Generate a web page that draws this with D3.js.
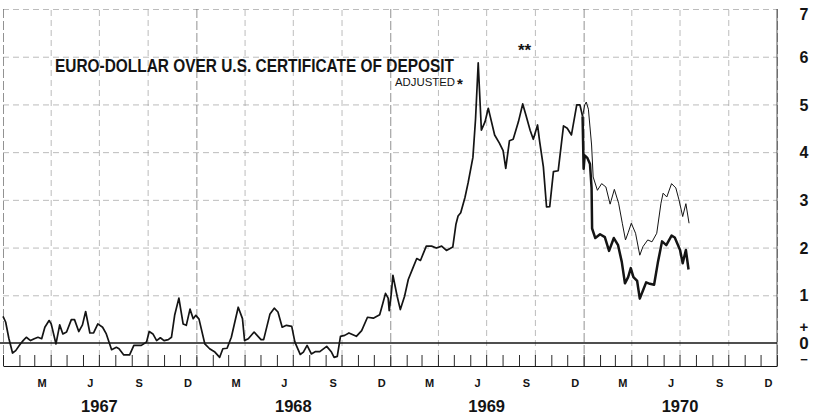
<!DOCTYPE html>
<html>
<head>
<meta charset="utf-8">
<script src="https://cdn.jsdelivr.net/npm/d3@7"></script>
<style>
  body { margin: 0; background: #fff; }
  svg { display: block; font-family: "Liberation Sans", Arial, sans-serif; }
  .grid line { stroke: #a6a6a6; stroke-width: 0.75; stroke-dasharray: 6,4; }
  .grid .domain { display: none; }
  .grid .year line { stroke: #6e6e6e; stroke-dasharray: 9,3; }
</style>
</head>
<body>
<div class="chart"></div>
<script>
// single line up to end of 1969
const mainDates = ['1967-01-01','1967-01-06','1967-01-12','1967-01-19','1967-01-25','1967-02-02','1967-02-08','1967-02-14','1967-02-22','1967-03-01',
  '1967-03-08','1967-03-15','1967-03-21','1967-03-29','1967-04-02','1967-04-11','1967-04-18','1967-04-24','1967-05-01','1967-05-10',
  '1967-05-16','1967-05-24','1967-05-31','1967-06-06','1967-06-14','1967-06-21','1967-06-29','1967-07-08','1967-07-15','1967-07-25',
  '1967-08-03','1967-08-08','1967-08-17','1967-08-28','1967-09-05','1967-09-19','1967-09-29','1967-10-04','1967-10-11','1967-10-18',
  '1967-10-25','1967-11-01','1967-11-09','1967-11-15','1967-11-21','1967-11-29','1967-12-07','1967-12-13','1967-12-20','1967-12-26',
  '1967-12-31','1968-01-06','1968-01-17','1968-01-26','1968-02-05','1968-02-14','1968-02-20','1968-02-28','1968-03-07','1968-03-20',
  '1968-03-28','1968-04-01','1968-04-08','1968-04-19','1968-05-02','1968-05-07','1968-05-19','1968-05-27','1968-06-03','1968-06-11',
  '1968-06-19','1968-06-29','1968-07-05','1968-07-15','1968-07-21','1968-07-28','1968-08-05','1968-08-13','1968-08-21','1968-09-03',
  '1968-09-12','1968-09-17','1968-09-23','1968-09-29','1968-10-07','1968-10-15','1968-10-29','1968-11-08','1968-11-19','1968-11-30',
  '1968-12-12','1968-12-17','1968-12-23','1968-12-28','1968-12-30','1969-01-03','1969-01-06','1969-01-14','1969-01-20','1969-01-28',
  '1969-02-04','1969-02-13','1969-02-20','1969-02-27','1969-03-10','1969-03-20','1969-03-29','1969-04-08','1969-04-17','1969-04-29',
  '1969-05-05','1969-05-09','1969-05-14','1969-05-22','1969-05-28','1969-06-06','1969-06-11','1969-06-16','1969-06-22','1969-06-29',
  '1969-07-05','1969-07-08','1969-07-17','1969-07-26','1969-08-02','1969-08-07','1969-08-14','1969-08-21','1969-08-31','1969-09-08',
  '1969-09-14','1969-09-22','1969-09-28','1969-10-06','1969-10-10','1969-10-17','1969-10-23','1969-10-29','1969-11-05','1969-11-14',
  '1969-11-24','1969-12-01','1969-12-09','1969-12-19','1969-12-25','1969-12-30'];
const mainValues = [0.56,0.44,0.10,-0.21,-0.16,-0.03,0.05,0.12,0.05,0.09,
  0.12,0.09,0.33,0.47,0.40,-0.02,0.38,0.19,0.23,0.49,
  0.49,0.24,0.38,0.66,0.21,0.21,0.40,0.33,0.19,-0.14,
  -0.09,-0.12,-0.25,-0.25,-0.05,-0.05,0.02,0.24,0.19,0.05,
  0.11,0.05,0.07,0.12,0.58,0.94,0.40,0.37,0.71,0.51,
  0.58,0.50,-0.02,-0.12,-0.19,-0.30,-0.12,-0.11,0.12,0.75,
  0.51,0.05,0.09,0.23,0.07,0.07,0.61,0.73,0.65,0.33,
  0.37,0.35,0.02,-0.24,-0.19,-0.05,-0.23,-0.18,-0.18,-0.07,
  -0.19,-0.30,-0.28,0.14,0.16,0.21,0.14,0.26,0.54,0.52,
  0.59,0.79,1.04,0.94,0.68,1.04,1.42,0.98,0.70,0.98,
  1.33,1.58,1.77,1.73,2.03,2.03,1.99,2.03,1.94,2.01,
  2.49,2.66,2.73,3.05,3.36,3.89,4.70,5.87,4.46,4.64,
  4.92,4.78,4.36,4.19,4.03,3.66,4.24,4.27,4.64,5.01,
  4.78,4.46,4.27,4.57,4.22,3.69,2.85,2.86,3.59,3.61,
  4.55,4.50,4.36,4.99,4.99,4.75];

// 1970, unadjusted (thin)
const thinDates = ['1969-12-30','1970-01-03','1970-01-06','1970-01-10','1970-01-16','1970-01-19','1970-01-27','1970-02-04','1970-02-12','1970-02-20',
  '1970-02-28','1970-03-08','1970-03-15','1970-03-21','1970-03-26','1970-04-01','1970-04-09','1970-04-17','1970-04-23','1970-05-02',
  '1970-05-10','1970-05-19','1970-05-27','1970-05-31','1970-06-07','1970-06-16','1970-06-24','1970-06-30','1970-07-07','1970-07-13','1970-07-19'];
const thinValues = [4.75,4.99,5.05,4.90,4.15,3.48,3.20,3.34,3.27,2.91,
  3.22,2.93,2.51,2.16,2.31,2.51,2.30,1.84,2.02,2.16,
  2.12,2.30,2.93,3.14,3.06,3.34,3.25,3.00,2.65,2.92,2.51];

// 1970, adjusted (thick)
const thickDates = ['1969-12-30','1970-01-01','1970-01-03','1970-01-08','1970-01-13','1970-01-16','1970-01-17','1970-01-23','1970-02-01','1970-02-10',
  '1970-02-18','1970-02-27','1970-03-07','1970-03-14','1970-03-20','1970-03-26','1970-03-31','1970-04-05','1970-04-12','1970-04-17',
  '1970-04-23','1970-04-29','1970-05-06','1970-05-14','1970-05-21','1970-05-29','1970-06-06','1970-06-16','1970-06-22','1970-07-02',
  '1970-07-07','1970-07-13','1970-07-18'];
const thickValues = [4.75,3.65,3.93,3.88,3.75,3.25,2.40,2.20,2.28,2.22,
  1.93,2.20,2.05,1.70,1.25,1.38,1.57,1.38,1.30,0.93,
  1.10,1.27,1.24,1.22,1.68,2.13,2.05,2.25,2.21,1.95,
  1.67,1.95,1.54];

const monthLabels = ['M', 'J', 'S', 'D'];
const monthLabelDates = ['-03-16', '-06-15', '-09-15', '-12-16'];
const years = ['1967', '1968', '1969', '1970'];
const yTicks = [1, 2, 3, 4, 5, 6, 7];

const W = 829, H = 414;
const parse = d3.timeParse('%Y-%m-%d');
const ink = '#141414';

const svg = d3.select('.chart')
  .append('svg')
  .attr('width', W)
  .attr('height', H);

const x = d3.scaleTime()
  .domain([new Date(1967, 0, 1), new Date(1971, 0, 1)])
  .range([3, 777]);

const y = d3.scaleLinear()
  .domain([0, 7])
  .range([343, 9]);

const bottom = 366;

// horizontal grid
svg.append('g')
  .attr('class', 'grid')
  .attr('transform', `translate(${x.range()[0]},0)`)
  .call(d3.axisRight(y).tickValues(yTicks).tickSize(x.range()[1] - x.range()[0]).tickFormat(''));

// vertical quarterly grid
const vgrid = svg.append('g')
  .attr('class', 'grid')
  .attr('transform', `translate(0,${bottom})`)
  .call(d3.axisTop(x).ticks(d3.timeMonth.every(3)).tickSize(bottom - y(7)).tickFormat(''));
vgrid.selectAll('.tick')
  .classed('year', d => d.getMonth() === 0);

// monthly ticks and bottom rule
svg.append('g')
  .attr('transform', `translate(0,${bottom})`)
  .call(d3.axisTop(x).ticks(d3.timeMonth.every(1)).tickSize(11).tickSizeOuter(0).tickFormat(''))
  .call(g => g.selectAll('line').attr('stroke', ink).attr('stroke-width', 0.9))
  .call(g => g.select('.domain').attr('stroke', ink).attr('stroke-width', 1));

// right frame
svg.append('line')
  .attr('x1', x.range()[1]).attr('x2', x.range()[1])
  .attr('y1', y(7)).attr('y2', bottom)
  .attr('stroke', '#444').attr('stroke-width', 0.9);

// zero line
svg.append('line')
  .attr('x1', 0).attr('x2', x.range()[1])
  .attr('y1', y(0)).attr('y2', y(0))
  .attr('stroke', ink).attr('stroke-width', 1.6);

// month labels
const monthData = [];
years.forEach(yr => monthLabels.forEach((m, i) => monthData.push({ m, d: parse(yr + monthLabelDates[i]) })));

svg.append('g')
  .selectAll('text')
  .data(monthData)
  .join('text')
  .attr('x', d => x(d.d))
  .attr('y', 387)
  .attr('text-anchor', 'middle')
  .attr('font-size', 11)
  .attr('font-weight', 'bold')
  .attr('fill', ink)
  .text(d => d.m);

svg.append('g')
  .selectAll('text')
  .data(years)
  .join('text')
  .attr('x', d => x(new Date(+d, 6, 2)))
  .attr('y', 412)
  .attr('text-anchor', 'middle')
  .attr('font-size', 16.5)
  .attr('font-weight', 'bold')
  .attr('fill', ink)
  .text(d => d);

// right value axis
svg.append('g')
  .attr('transform', 'translate(804,0)')
  .call(d3.axisRight(y).tickValues(yTicks).tickSize(0).tickPadding(0).tickFormat(d3.format('d')))
  .call(g => g.select('.domain').remove())
  .call(g => g.selectAll('text')
    .attr('text-anchor', 'middle')
    .attr('font-size', 16)
    .attr('font-weight', 'bold')
    .attr('font-family', '"Liberation Sans", Arial, sans-serif')
    .attr('fill', ink)
    .attr('dy', d => d === 7 ? '0.65em' : '0.35em'));

const zeroLab = svg.append('g')
  .attr('font-weight', 'bold')
  .attr('fill', ink)
  .attr('text-anchor', 'middle');
zeroLab.append('text').attr('x', 804).attr('y', y(0) - 11).attr('font-size', 15).text('+');
zeroLab.append('text').attr('x', 804).attr('y', y(0) + 6).attr('font-size', 17).text('0');
zeroLab.append('text').attr('x', 804).attr('y', y(0) + 21).attr('font-size', 13).text('\u2212');

// series
const line = d3.line()
  .x(d => x(d[0]))
  .y(d => y(d[1]));

const series = [
  { dates: mainDates, values: mainValues, w: 1.7 },
  { dates: thinDates, values: thinValues, w: 1.0 },
  { dates: thickDates, values: thickValues, w: 2.5 }
];

svg.append('g')
  .selectAll('path')
  .data(series)
  .join('path')
  .attr('d', s => line(s.dates.map((d, i) => [parse(d), s.values[i]])))
  .attr('fill', 'none')
  .attr('stroke', ink)
  .attr('stroke-width', s => s.w)
  .attr('stroke-linejoin', 'round');

// titles
svg.append('text')
  .attr('x', 55)
  .attr('y', 72)
  .attr('font-size', 17.5)
  .attr('font-weight', 'bold')
  .attr('fill', ink)
  .attr('textLength', 399)
  .attr('lengthAdjust', 'spacingAndGlyphs')
  .text('EURO-DOLLAR OVER U.S. CERTIFICATE OF DEPOSIT');

svg.append('text')
  .attr('x', 395)
  .attr('y', 86)
  .attr('font-size', 11)
  .attr('fill', ink)
  .attr('textLength', 60)
  .attr('lengthAdjust', 'spacingAndGlyphs')
  .text('ADJUSTED');

svg.append('text')
  .attr('x', 457)
  .attr('y', 89)
  .attr('font-size', 15)
  .attr('font-weight', 'bold')
  .attr('fill', ink)
  .text('*');

svg.append('text')
  .attr('x', 518)
  .attr('y', 56)
  .attr('font-size', 17)
  .attr('font-weight', 'bold')
  .attr('fill', ink)
  .text('**');
</script>
</body>
</html>
